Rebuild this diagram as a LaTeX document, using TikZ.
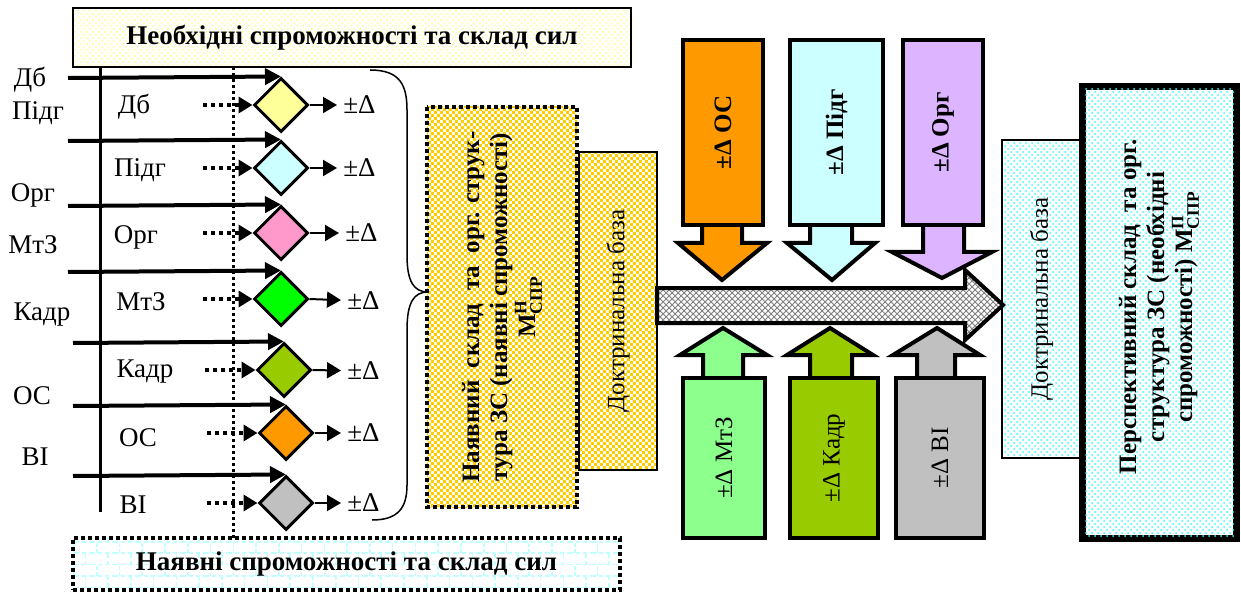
\documentclass[tikz,border=0pt]{standalone}
\usepackage{amsmath}
\usepackage{fontspec}
\setmainfont{Liberation Serif}
\usetikzlibrary{arrows.meta,shapes,patterns}
\definecolor{dyellow}{RGB}{255,255,153}
\definecolor{dcyan}{RGB}{204,255,255}
\definecolor{dpink}{RGB}{255,153,204}
\definecolor{dgreen}{RGB}{0,255,0}
\definecolor{dolive}{RGB}{153,204,0}
\definecolor{dorange}{RGB}{255,153,0}
\definecolor{dgray}{RGB}{192,192,192}
\definecolor{dlilac}{RGB}{220,180,255}
\definecolor{dlime}{RGB}{140,255,140}
\definecolor{dgold}{RGB}{255,204,0}
\def\nodefont{\fontsize{12.5}{14}\selectfont}
\def\boldfont{\fontsize{12.5}{14}\selectfont\bfseries}
\def\labelfont{\fontsize{13.5}{15}\selectfont}
\def\barfont{\fontsize{13.5}{15}\selectfont\bfseries}
% small checker squares
\pgfdeclarepatternformonly{smallcheck}{\pgfqpoint{0pt}{0pt}}{\pgfqpoint{3.2pt}{3.2pt}}%
{\pgfqpoint{3.2pt}{3.2pt}}{%
\pgfpathrectangle{\pgfqpoint{0pt}{0pt}}{\pgfqpoint{1.6pt}{1.6pt}}%
\pgfpathrectangle{\pgfqpoint{1.6pt}{1.6pt}}{\pgfqpoint{1.6pt}{1.6pt}}%
\pgfusepath{fill}}
\tikzstyle{every node}=[font=\nodefont]
\tikzstyle{decstyle}=[diamond, draw, line width=1.5pt, inner sep=0pt,
minimum width=27pt, minimum height=27pt]
\tikzstyle{sumarrow}=[line width=2pt, -{Triangle[length=8pt,width=8pt]}]
\tikzstyle{dotarrow}=[line width=2pt, dash pattern=on 2pt off 2pt,
-{Triangle[length=7pt,width=8pt]}]
\tikzstyle{outarrow}=[line width=1pt, -{Triangle[length=7pt,width=8pt]}]
\tikzstyle{blkstyle}=[rectangle, draw, line width=2pt, rotate=90, inner sep=0pt]
\tikzstyle{basestyle}=[rectangle, draw, line width=0.75pt, rotate=90, inner sep=0pt,
minimum width=159pt]

\begin{document}
\begin{tikzpicture}[x=0.5pt,y=-0.5pt]
\fill[white] (0,0) rectangle (1241,593);
\useasboundingbox (0,0) rectangle (1241,593);

% Needed / available bars
\node[draw, line width=1pt, pattern=crosshatch dots, pattern color=yellow!45,
	minimum width=279pt, minimum height=29.5pt, font=\barfont] (need) at (352,37.5)
	{Необхідні спроможності та склад сил};
\node[draw, line width=2pt, dash pattern=on 2pt off 1.5pt, pattern=bricks, pattern color=cyan!25,
	minimum width=273.5pt, minimum height=26pt, font=\barfont] (have) at (346.5,564)
	{Наявні спроможності та склад сил};
\draw[line width=1.5pt] (100,67) -- (100,512);
\draw[line width=1.5pt, dash pattern=on 1.5pt off 1.5pt] (233,67) -- (233,538);

% Row Дб
\node[decstyle, fill=dyellow] (d1) at (281,105) {};
\coordinate (s1) at (68,78); \coordinate (p1) at (203,105);
\node[font=\labelfont] (n1) at (30,80) {Дб}; \node[font=\labelfont] (l1) at (134,107) {Дб};
\node[anchor=west, inner sep=3pt, font=\labelfont] (o1) at (337,105) {±Δ};
\draw[sumarrow] (s1) -- (d1.north); \draw[dotarrow] (p1) -- (d1.west);
\draw[outarrow] (d1.east) -- (o1);

% Row Підг
\node[decstyle, fill=dcyan] (d2) at (281,168) {};
\coordinate (s2) at (68,141); \coordinate (p2) at (203,168);
\node[font=\labelfont] (n2) at (38,113) {Підг}; \node[font=\labelfont] (l2) at (140,170) {Підг};
\node[anchor=west, inner sep=3pt, font=\labelfont] (o2) at (337,168) {±Δ};
\draw[sumarrow] (s2) -- (d2.north); \draw[dotarrow] (p2) -- (d2.west);
\draw[outarrow] (d2.east) -- (o2);

% Row Орг
\node[decstyle, fill=dpink] (d3) at (281,233) {};
\coordinate (s3) at (68,206); \coordinate (p3) at (203,233);
\node[font=\labelfont] (n3) at (33,195) {Орг}; \node[font=\labelfont] (l3) at (136,237) {Орг};
\node[anchor=west, inner sep=3pt, font=\labelfont] (o3) at (339,233) {±Δ};
\draw[sumarrow] (s3) -- (d3.north); \draw[dotarrow] (p3) -- (d3.west);
\draw[outarrow] (d3.east) -- (o3);

% Row МтЗ
\node[decstyle, fill=dgreen] (d4) at (281,299) {};
\coordinate (s4) at (68,272); \coordinate (p4) at (203,299);
\node[font=\labelfont] (n4) at (33,245) {МтЗ}; \node[font=\labelfont] (l4) at (141,302) {МтЗ};
\node[anchor=west, inner sep=3pt, font=\labelfont] (o4) at (341,301) {±Δ};
\draw[sumarrow] (s4) -- (d4.north); \draw[dotarrow] (p4) -- (d4.west);
\draw[outarrow] (d4.east) -- (o4);

% Row Кадр
\node[decstyle, fill=dolive] (d5) at (284,370) {};
\coordinate (s5) at (73,343); \coordinate (p5) at (205,370);
\node[font=\labelfont] (n5) at (42,315) {Кадр}; \node[font=\labelfont] (l5) at (145,372) {Кадр};
\node[anchor=west, inner sep=3pt, font=\labelfont] (o5) at (341,371) {±Δ};
\draw[sumarrow] (s5) -- (d5.north); \draw[dotarrow] (p5) -- (d5.west);
\draw[outarrow] (d5.east) -- (o5);

% Row ОС
\node[decstyle, fill=dorange] (d6) at (286,433) {};
\coordinate (s6) at (73,406); \coordinate (p6) at (207,433);
\node[font=\labelfont] (n6) at (32,396) {ОС}; \node[font=\labelfont] (l6) at (138,438) {ОС};
\node[anchor=west, inner sep=3pt, font=\labelfont] (o6) at (341,433) {±Δ};
\draw[sumarrow] (s6) -- (d6.north); \draw[dotarrow] (p6) -- (d6.west);
\draw[outarrow] (d6.east) -- (o6);

% Row ВІ
\node[decstyle, fill=dgray] (d7) at (286,503) {};
\coordinate (s7) at (73,476); \coordinate (p7) at (207,503);
\node[font=\labelfont] (n7) at (35,457) {ВІ}; \node[font=\labelfont] (l7) at (133,505) {ВІ};
\node[anchor=west, inner sep=3pt, font=\labelfont] (o7) at (341,503) {±Δ};
\draw[sumarrow] (s7) -- (d7.north); \draw[dotarrow] (p7) -- (d7.west);
\draw[outarrow] (d7.east) -- (o7);

% Brace
\draw[line width=0.75pt] (370,70) .. controls (400,70) and (407,85) .. (407,110)
	-- (407,255) .. controls (407,282) and (414,292) .. (428,292)
	.. controls (414,292) and (407,302) .. (407,330)
	-- (407,485) .. controls (407,508) and (398,520) .. (372,520);

% Current structure
\node[basestyle, pattern=smallcheck, pattern color=dgold, minimum height=39pt]
	(base1) at (618,311) {Доктринальна база};
\node[rectangle, draw, line width=2pt, dash pattern=on 2pt off 1.5pt, rotate=90,
	pattern=smallcheck, pattern color=dgold, minimum width=200pt, minimum height=75pt,
	align=center, font=\boldfont] (cur) at (502,307)
	{Наявний\ \ склад\ \ та\ \ орг. струк-\\тура ЗС (наявні спроможності)\\
	М$^{\text{Н}}_{\text{СПР}}$};

% Main arrow
\draw[line width=2pt, pattern=crosshatch, pattern color=gray]
	(657,288) -- (965,288) -- (965,270) -- (1003,305) -- (965,340) -- (965,323)
	-- (657,323) -- cycle;

% Upper block arrows
\draw[line width=2pt, fill=dorange] (702,225) -- (702,243) -- (678,243) -- (722,280)
	-- (767,243) -- (742,243) -- (742,225);
\node[blkstyle, fill=dorange, minimum width=92.5pt, minimum height=40pt, font=\boldfont]
	(os) at (723,132.5) {±Δ ОС};
\draw[line width=2pt, fill=dcyan] (810,225) -- (810,243) -- (787,243) -- (832,280)
	-- (875,243) -- (852,243) -- (852,225);
\node[blkstyle, fill=dcyan, minimum width=92.5pt, minimum height=46.5pt, font=\boldfont]
	(pidg) at (836.5,132.5) {±Δ Підг};
\draw[line width=2pt, fill=dlilac] (923,225) -- (923,252) -- (892,252) -- (942,278)
	-- (992,252) -- (964,252) -- (964,225);
\node[blkstyle, fill=dlilac, minimum width=92.5pt, minimum height=40pt, font=\boldfont]
	(org) at (943,132.5) {±Δ Орг};

% Lower block arrows
\draw[line width=2pt, fill=dlime] (703,378) -- (703,355) -- (680,355) -- (723,328)
	-- (767,355) -- (743,355) -- (743,378);
\node[blkstyle, fill=dlime, minimum width=80pt, minimum height=41pt]
	(mtz) at (724,458) {±Δ МтЗ};
\draw[line width=2pt, fill=dolive] (810,378) -- (810,355) -- (787,355) -- (830,328)
	-- (873,355) -- (852,355) -- (852,378);
\node[blkstyle, fill=dolive, minimum width=80pt, minimum height=44pt]
	(kadr) at (834,458) {±Δ Кадр};
\draw[line width=2pt, fill=dgray] (917,378) -- (917,355) -- (893,355) -- (937,328)
	-- (980,355) -- (955,355) -- (955,378);
\node[blkstyle, fill=dgray, minimum width=80pt, minimum height=44pt]
	(vi) at (940,458) {±Δ ВІ};

% Future structure
\node[basestyle, pattern=crosshatch dots, pattern color=cyan!80, minimum height=39.5pt]
	(base2) at (1041.5,299) {Доктринальна база};
\node[rectangle, draw, line width=3.5pt, rotate=90, fill=white, minimum width=225.5pt,
	minimum height=77pt] (fut) at (1159,312.5) {};
\fill[pattern=crosshatch dots, pattern color=cyan!80] (1084,89) rectangle (1234,536);
\node[rotate=90, align=center, font=\boldfont] (futtext) at (1159,307)
	{Перспективний склад\ \ та орг.\\структура ЗС (необхідні\\
	спроможності) М$^{\text{П}}_{\text{СПР}}$};

\end{tikzpicture}
\end{document}
